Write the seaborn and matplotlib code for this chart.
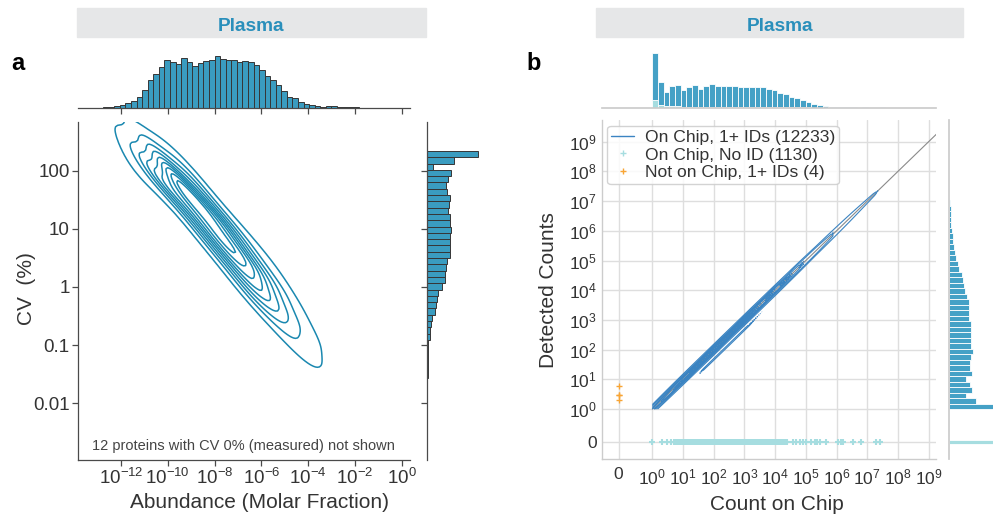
import numpy as np
import pandas as pd
import matplotlib
matplotlib.use("Agg")
import matplotlib.pyplot as plt
import seaborn as sns
from matplotlib.lines import Line2D
from matplotlib.patches import Rectangle

# ---------------------------------------------------------------- data
# Panel a: top marginal histogram of log10 abundance (bins of equal width)
abund_bin_start = -12.76
abund_bin_width = 0.238
abund_hist_counts = [3, 5, 6, 9, 15, 22, 34, 55, 85, 103, 124, 144, 139, 134, 150,
                     138, 126, 135, 141, 144, 158, 148, 145, 146, 138, 141, 139, 129,
                     115, 96, 86, 70, 51, 33, 30, 19, 12, 10, 7, 4, 6, 6, 4, 5, 3, 3,
                     2, 1, 1]

# Panel a: right marginal histogram of log10 CV, listed from the top bin downward
cv_bin_top = 2.342
cv_bin_width = 0.1085
cv_hist_counts = [151, 80, 18, 71, 63, 57, 60, 67, 65, 61, 68, 69, 72, 68, 67, 67, 67,
                  60, 56, 53, 52, 45, 33, 28, 25, 22, 13, 12, 7, 7, 3, 2, 1, 1, 1, 1]

# Panel a: weighted anchor points (log10 abundance, log10 CV) for the density contours
kde_a_abund = [-12.75, -12.50, -12.25, -12.00, -11.75, -11.50, -11.25, -11.00,
               -10.75, -10.50, -10.25, -10.00, -9.75, -9.50, -9.25, -9.00, -8.75,
               -8.50, -8.25, -8.00, -7.75, -7.50, -7.25, -7.00, -6.75, -6.50, -6.25,
               -6.00, -5.75, -5.50, -5.25, -5.00, -4.75, -4.50, -4.25, -4.00, -3.75,
               -3.50, -3.25,
               -7.00, -6.50, -6.00, -5.50, -5.00, -4.75]
kde_a_cv = [1.75, 1.78, 1.82, 1.86, 1.90, 1.94, 1.98, 2.00,
            2.05, 2.00, 2.15, 1.67, 2.02, 1.67, 1.64, 1.87, 1.19,
            1.37, 0.79, 1.22, 0.79, 0.77, 0.99, 0.32, 0.49, -0.09, 0.34,
            -0.09, -0.11, 0.12, -0.56, -0.39, -0.96, -0.54, -0.96, -0.99, -0.76,
            -1.44, -1.26,
            1.05, 0.80, 0.60, 0.40, 0.15, -0.10]
kde_a_weight = [1, 2, 3, 4, 7, 12, 20, 36, 65, 103, 124, 144, 139, 134, 150, 138,
                126, 135, 141, 158, 148, 145, 146, 138, 141, 139, 129, 115, 96, 86,
                70, 51, 33, 30, 19, 12, 10, 7, 4,
                9, 10, 10, 9, 7, 5]

# Panel b: top marginal histogram of log10 count on chip (stacked)
chip_bin_width = 0.185
chip_hist_id = [140, 70, 43, 60, 63, 49, 60, 66, 53, 61, 70, 62, 63, 63, 64, 60, 60,
                60, 61, 60, 54, 51, 44, 41, 32, 27, 21, 15, 11.5, 7.5, 4.5, 3, 3, 2,
                1, 1, 0, 1, 0, 0, 1]
chip_hist_noid = [23, 7, 4, 4, 4, 3, 3, 3, 3, 3, 2, 2, 2, 2, 2, 2, 2, 2, 2, 1, 1, 1,
                  1, 1, 1, 1, 1, 1, 0.5, 0.5, 0.5, 0, 0, 0, 0, 0, 0, 0, 0, 0, 0]

# Panel b: right marginal histogram of log10 detected counts (from 10^0 upward)
det_bin_width = 0.185
det_hist_counts = [400, 79, 49, 67, 62, 49, 67, 62, 62, 64, 70, 64, 64, 66, 66, 64,
                   60, 60, 60, 60, 52, 47, 44, 42, 39, 30, 27, 20, 17, 15, 12, 10, 8,
                   6, 5, 4, 4, 3]
det_zero_count = 400

# Panel b: weighted anchor points (log10 count on chip, log10 detected)
kde_b_chip = [0.00, 0.20, 0.40, 0.60, 0.80, 1.00, 1.20, 1.40, 1.60, 1.80, 2.00, 2.20,
              2.40, 2.60, 2.80, 3.00, 3.20, 3.40, 3.60, 3.80, 4.00, 4.20, 4.40, 4.60,
              4.80, 5.00, 5.20, 5.40, 5.60, 5.80, 6.00, 6.40, 6.80, 7.20, 7.60, 8.00,
              0.50, 1.00, 1.50, 2.00, 2.50, 3.00, 3.50, 4.00, 4.50, 5.00]
kde_b_det = [0.00, 0.14, 0.46, 0.55, 0.86, 0.94, 1.26, 1.34, 1.66, 1.74, 2.06, 2.14,
             2.46, 2.54, 2.86, 2.94, 3.26, 3.34, 3.66, 3.74, 4.06, 4.14, 4.46, 4.54,
             4.86, 4.94, 5.26, 5.34, 5.66, 5.74, 6.04, 6.36, 6.84, 7.16, 7.64, 7.96,
             0.20, 0.64, 1.20, 1.64, 2.20, 2.64, 3.20, 3.66, 4.22, 4.70]
kde_b_weight = [100, 75, 45, 60, 63, 50, 62, 66, 55, 63, 70, 63, 64, 64, 65, 62, 62,
                62, 62, 60, 55, 51, 45, 41, 33, 27, 21, 15, 11, 9, 8, 7, 6, 5, 5,
                4.5,
                7, 7, 7, 7, 7, 7, 7, 6, 5, 4]

# Panel b: proteins on chip without ID (log10 count on chip; detected = 0)
no_id_chip_log = [0.00, 0.30, 0.48, 0.60, 0.70, 0.78, 0.85, 0.90, 0.95,
                  1.00, 1.04, 1.08, 1.11, 1.15, 1.18, 1.22, 1.26, 1.30, 1.34, 1.38,
                  1.42, 1.46, 1.49, 1.53, 1.57, 1.61, 1.65, 1.69, 1.72, 1.76, 1.80,
                  1.84, 1.88, 1.92, 1.96, 2.00, 2.04, 2.08, 2.11, 2.15, 2.19, 2.23,
                  2.27, 2.31, 2.35, 2.39, 2.43, 2.46, 2.50, 2.54, 2.58, 2.62, 2.66,
                  2.70, 2.74, 2.78, 2.81, 2.85, 2.89, 2.93, 2.97, 3.01, 3.05, 3.09,
                  3.13, 3.16, 3.20, 3.24, 3.28, 3.32, 3.36, 3.40, 3.44, 3.48, 3.51,
                  3.55, 3.59, 3.63, 3.67, 3.71, 3.75, 3.79, 3.83, 3.86, 3.90, 3.94,
                  3.98, 4.02, 4.06, 4.10, 4.14, 4.18, 4.21, 4.25, 4.30, 4.34, 4.37,
                  4.59, 4.69, 4.82, 4.91, 5.02, 5.18, 5.29, 5.37, 5.45, 5.67, 6.05,
                  6.16, 6.22, 6.54, 6.81, 7.30, 7.41]
# Panel b: proteins not on chip (count on chip = 0) with detected counts
not_on_chip_detected = [2, 3, 3, 6]

legend_labels = ["On Chip, 1+ IDs (12233)", "On Chip, No ID (1130)",
                 "Not on Chip, 1+ IDs (4)"]
abund_ticks = [-12, -10, -8, -6, -4, -2, 0]
cv_ticks = [2, 1, 0, -1, -2]
cv_tick_labels = ["100", "10", "1", "0.1", "0.01"]
count_ticks = [0, 1, 2, 3, 4, 5, 6, 7, 8, 9]

# ---------------------------------------------------------------- style
sns.set_theme(style="ticks")
plt.rcParams["font.family"] = ["Liberation Sans", "DejaVu Sans"]
plt.rcParams["mathtext.fontset"] = "custom"
plt.rcParams["mathtext.rm"] = "Liberation Sans"
plt.rcParams["mathtext.it"] = "Liberation Sans:italic"
plt.rcParams["mathtext.bf"] = "Liberation Sans:bold"

A_BAR = "#3a9cc0"
A_EDGE = "#363636"
A_LINE = "#1a88b0"
B_BAR = "#45a1c6"
B_LINE = "#3b84c2"
CYAN = "#a6dde0"
ORANGE = "#f8a535"
TXT = "#333333"
SPINE_A = "#4a4a4a"
SPINE_B = "#cccccc"
HEADER_BG = "#e6e7e8"
HEADER_TXT = "#2a8fbb"
ZERO = -1.1

W, H = 993, 517
fig = plt.figure(figsize=(W / 100, H / 100), dpi=100)


def add_ax(x0, y0, x1, y1):
    return fig.add_axes([x0 / W, 1 - y1 / H, (x1 - x0) / W, (y1 - y0) / H])


# ---------------------------------------------------------------- headers
for (x0, x1) in [(77, 426), (596, 963)]:
    fig.patches.append(Rectangle((x0 / W, 1 - 36.7 / H), (x1 - x0) / W, 28.4 / H,
                                 transform=fig.transFigure, color=HEADER_BG, zorder=0))
    fig.text((x0 + x1) / 2 / W, 1 - 31 / H, "Plasma", ha="center", va="baseline",
             fontsize=13.7, fontweight="bold", color=HEADER_TXT)
fig.text(11.5 / W, 1 - 70 / H, "a", ha="left", va="baseline", fontsize=17,
         fontweight="bold", color="black")
fig.text(526.5 / W, 1 - 70 / H, "b", ha="left", va="baseline", fontsize=17,
         fontweight="bold", color="black")

# ---------------------------------------------------------------- panel a
A_XLIM = (-13.85, 0.355)
A_YLIM = (-2.98, 2.84)

ax_a = add_ax(77.7, 122, 410, 460)
sns.kdeplot(x=kde_a_abund, y=kde_a_cv, weights=kde_a_weight, ax=ax_a, color=A_LINE,
            linewidths=1.1, bw_adjust=0.85)
ax_a.set_xlim(*A_XLIM)
ax_a.set_ylim(*A_YLIM)
ax_a.set_xticks(abund_ticks)
ax_a.set_xticklabels([r"$10^{%d}$" % t for t in abund_ticks])
ax_a.set_yticks(cv_ticks)
ax_a.set_yticklabels(cv_tick_labels)
for s in ["top", "right"]:
    ax_a.spines[s].set_visible(False)
for s in ["left", "bottom"]:
    ax_a.spines[s].set_color(SPINE_A)
    ax_a.spines[s].set_linewidth(0.9)
ax_a.tick_params(length=4.6, width=0.9, color=SPINE_A, labelcolor=TXT, labelsize=13.5,
                 pad=1.3)
ax_a.set_xlabel("Abundance (Molar Fraction)", fontsize=15, color=TXT, va="center")
ax_a.xaxis.set_label_coords((259 - 77.7) / 332.3, -(503 - 460) / 338)
ax_a.set_ylabel("CV  (%)", fontsize=15, color=TXT, va="center", ha="center")
ax_a.yaxis.set_label_coords((26.7 - 77.7) / 332.3, (460 - 289) / 338)
ax_a.text(0.4974, 0.0414, "12 proteins with CV 0% (measured) not shown",
          transform=ax_a.transAxes, ha="center", va="center", fontsize=10.5,
          color="#444444")

# top marginal
ax_at = add_ax(77.7, 50, 410, 108.3)
edges_ab = abund_bin_start + abund_bin_width * np.arange(len(abund_hist_counts) + 1)
cent_ab = (edges_ab[:-1] + edges_ab[1:]) / 2
sns.histplot(x=cent_ab, weights=abund_hist_counts, bins=edges_ab.tolist(), ax=ax_at,
             color=A_BAR, edgecolor=A_EDGE, linewidth=0.7, alpha=1)
ax_at.set_xlim(*A_XLIM)
ax_at.set_ylim(0, 174.8)
for s in ["top", "right", "left"]:
    ax_at.spines[s].set_visible(False)
ax_at.spines["bottom"].set_color(SPINE_A)
ax_at.spines["bottom"].set_linewidth(0.9)
ax_at.set_xticks(abund_ticks)
ax_at.set_xticklabels([])
ax_at.set_yticks([])
ax_at.tick_params(length=4.6, width=0.9, color=SPINE_A)
ax_at.set_xlabel("")
ax_at.set_ylabel("")

# right marginal
ax_ar = add_ax(427.3, 122, 490, 460)
edges_cv = cv_bin_top - cv_bin_width * np.arange(len(cv_hist_counts) + 1)[::-1]
cent_cv = (edges_cv[:-1] + edges_cv[1:]) / 2
sns.histplot(y=cent_cv, weights=cv_hist_counts[::-1], bins=edges_cv.tolist(), ax=ax_ar,
             color=A_BAR, edgecolor=A_EDGE, linewidth=0.7, alpha=1)
ax_ar.set_ylim(*A_YLIM)
ax_ar.set_xlim(0, 188.2)
for s in ["top", "right", "bottom"]:
    ax_ar.spines[s].set_visible(False)
ax_ar.spines["left"].set_color(SPINE_A)
ax_ar.spines["left"].set_linewidth(0.9)
ax_ar.set_yticks(cv_ticks)
ax_ar.set_yticklabels([])
ax_ar.set_xticks([])
ax_ar.tick_params(length=4.6, width=0.9, color=SPINE_A)
ax_ar.set_xlabel("")
ax_ar.set_ylabel("")

# ---------------------------------------------------------------- panel b
B_XLIM = (-1.65, 9.23)
B_YLIM = (-1.68, 9.73)

ax_b = add_ax(601.7, 120, 935.7, 459)
ax_b.grid(True, color="#dedede", linewidth=1.0)
ax_b.set_axisbelow(True)
ax_b.plot([0, 9.5], [0, 9.5], color="#8a8a8a", lw=0.8, zorder=1)
sns.kdeplot(x=kde_b_chip, y=kde_b_det, weights=kde_b_weight, ax=ax_b, color=B_LINE,
            linewidths=0.8, bw_adjust=1.0, clip=((0, 10), (0, 10)))
sns.scatterplot(x=no_id_chip_log, y=[ZERO] * len(no_id_chip_log), marker="+",
                color=CYAN, s=16, linewidth=1.5, ax=ax_b, zorder=3)
sns.scatterplot(x=[ZERO] * len(not_on_chip_detected),
                y=np.log10(not_on_chip_detected), marker="+", color=ORANGE, s=19,
                linewidth=1.0, ax=ax_b, zorder=3)
ax_b.set_xlim(*B_XLIM)
ax_b.set_ylim(*B_YLIM)
ticks_b = [ZERO] + count_ticks
labels_b = ["0"] + [r"$10^{%d}$" % t for t in count_ticks]
ax_b.set_xticks(ticks_b)
ax_b.set_xticklabels(labels_b)
ax_b.set_yticks(ticks_b)
ax_b.set_yticklabels(labels_b)
for s in ["top", "right"]:
    ax_b.spines[s].set_visible(False)
for s in ["left", "bottom"]:
    ax_b.spines[s].set_color(SPINE_B)
    ax_b.spines[s].set_linewidth(1.0)
ax_b.tick_params(axis="x", length=0, labelcolor=TXT, labelsize=12.5, pad=6)
ax_b.tick_params(axis="y", length=0, labelcolor=TXT, labelsize=12.5, pad=3.5)
ax_b.set_xlabel("Count on Chip", fontsize=15, color=TXT, va="center")
ax_b.xaxis.set_label_coords((777 - 601.7) / 334, -(505 - 459) / 339)
ax_b.set_ylabel("Detected Counts", fontsize=15, color=TXT, va="center", ha="center")
ax_b.yaxis.set_label_coords((548 - 601.7) / 334, 0.497)
handles = [Line2D([], [], color=B_LINE, lw=1.0),
           Line2D([], [], color=CYAN, marker="+", ls="", ms=5, mew=1.0),
           Line2D([], [], color=ORANGE, marker="+", ls="", ms=5, mew=1.0)]
leg = ax_b.legend(handles, legend_labels, loc="upper left", fontsize=12.6,
                  frameon=True, framealpha=0.85, edgecolor="#cccccc",
                  handlelength=1.3, handletextpad=0.6, labelspacing=0.14,
                  borderpad=0.22, borderaxespad=0.33)
for t in leg.get_texts():
    t.set_color(TXT)

# top marginal (stacked)
ax_bt = add_ax(601.7, 50, 935.7, 107.7)
edges_chip = chip_bin_width * np.arange(len(chip_hist_id) + 1)
cent_chip = (edges_chip[:-1] + edges_chip[1:]) / 2
df_chip = pd.DataFrame({
    "x": np.concatenate([cent_chip, cent_chip]),
    "w": chip_hist_noid + chip_hist_id,
    "g": ["noid"] * len(cent_chip) + ["id"] * len(cent_chip),
})
sns.histplot(data=df_chip, x="x", weights="w", hue="g", hue_order=["id", "noid"],
             multiple="stack", bins=edges_chip.tolist(), ax=ax_bt,
             palette={"id": B_BAR, "noid": CYAN}, edgecolor="white", linewidth=0.6,
             alpha=1, legend=False)
ax_bt.set_xlim(*B_XLIM)
ax_bt.set_ylim(0, 173)
for s in ["top", "right", "left"]:
    ax_bt.spines[s].set_visible(False)
ax_bt.spines["bottom"].set_color(SPINE_B)
ax_bt.set_xticks([])
ax_bt.set_yticks([])
ax_bt.set_xlabel("")
ax_bt.set_ylabel("")

# right marginal
ax_br = add_ax(949.3, 120, 1049.3, 459)
edges_det = det_bin_width * np.arange(len(det_hist_counts) + 1)
cent_det = (edges_det[:-1] + edges_det[1:]) / 2
sns.histplot(y=cent_det, weights=det_hist_counts, bins=edges_det.tolist(), ax=ax_br,
             color=B_BAR, edgecolor="white", linewidth=0.6, alpha=1)
sns.histplot(y=[ZERO], weights=[det_zero_count], bins=[ZERO - 0.075, ZERO + 0.075],
             ax=ax_br, color=CYAN, edgecolor="white", linewidth=0.6, alpha=1)
ax_br.set_ylim(*B_YLIM)
ax_br.set_xlim(0, 300)
for s in ["top", "right", "bottom"]:
    ax_br.spines[s].set_visible(False)
ax_br.spines["left"].set_color(SPINE_B)
ax_br.set_xticks([])
ax_br.set_yticks([])
ax_br.set_xlabel("")
ax_br.set_ylabel("")

fig.savefig("out.png", dpi=100)
